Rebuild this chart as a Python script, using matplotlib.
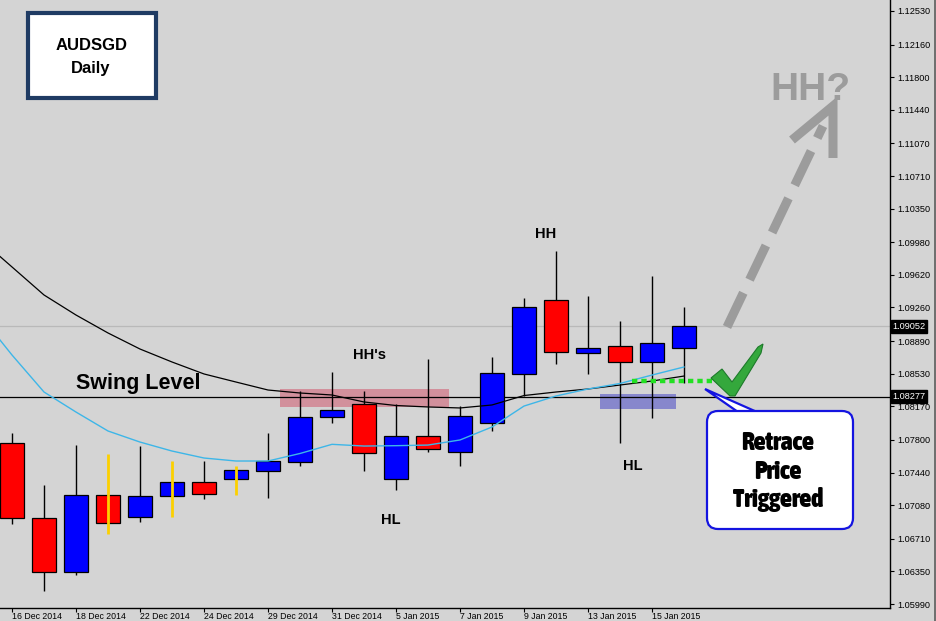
import matplotlib
matplotlib.use('Agg')
import matplotlib.pyplot as plt
from matplotlib import font_manager
from matplotlib.font_manager import FontProperties
from matplotlib.patches import Rectangle, FancyBboxPatch, Polygon
import numpy as np

# ---------------- data ----------------
dates = ['16 Dec 2014', '17 Dec 2014', '18 Dec 2014', '19 Dec 2014', '22 Dec 2014',
         '23 Dec 2014', '24 Dec 2014', '26 Dec 2014', '29 Dec 2014', '30 Dec 2014',
         '31 Dec 2014', '2 Jan 2015', '5 Jan 2015', '6 Jan 2015', '7 Jan 2015',
         '8 Jan 2015', '9 Jan 2015', '12 Jan 2015', '13 Jan 2015', '14 Jan 2015',
         '15 Jan 2015', '16 Jan 2015']
opens = [1.07765, 1.06938, 1.06343, 1.07192, 1.06949, 1.07181, 1.07335, 1.07368,
         1.07457, 1.07556, 1.08052, 1.08196, 1.07368, 1.07843, 1.07666, 1.07986,
         1.08527, 1.09343, 1.08761, 1.08835, 1.08659, 1.08813]
highs = [1.07876, 1.07302, 1.07743, 1.07644, 1.07732, 1.07567, 1.07567, 1.07512,
         1.07876, 1.08339, 1.08549, 1.08339, 1.08196, 1.08692, 1.08174, 1.08714,
         1.09365, 1.09883, 1.09387, 1.09111, 1.09607, 1.09265]
lows = [1.06872, 1.06133, 1.06310, 1.06762, 1.06894, 1.06949, 1.07148, 1.07192,
        1.07159, 1.07512, 1.07986, 1.07457, 1.07247, 1.07666, 1.07512, 1.07898,
        1.08284, 1.08637, 1.08527, 1.07765, 1.08041, 1.08427]
closes = [1.06938, 1.06343, 1.07192, 1.06883, 1.07181, 1.07335, 1.07203, 1.07468,
          1.07567, 1.08052, 1.08129, 1.07655, 1.07843, 1.07699, 1.08063, 1.08538,
          1.09265, 1.08769, 1.08813, 1.08659, 1.08868, 1.09052]
yellow_wick = [False, False, False, True, False, True, False, True, False, False, False,
               False, False, False, False, False, False, False, False, False, False, False]

# moving averages (first value is the bar before 16 Dec, off the left edge)
ma_slow = [1.10015, 1.09707, 1.09398, 1.09177, 1.08979, 1.08802, 1.08659, 1.08527,
           1.08438, 1.08350, 1.08317, 1.08295, 1.08218, 1.08179, 1.08163, 1.08152,
           1.08185, 1.08289, 1.08328, 1.08361, 1.08405, 1.08449, 1.08504]
ma_fast = [1.09177, 1.08736, 1.08328, 1.08107, 1.07898, 1.07776, 1.07677, 1.07600,
           1.07567, 1.07567, 1.07650, 1.07751, 1.07732, 1.07736, 1.07743, 1.07799,
           1.07942, 1.08173, 1.08284, 1.08361, 1.08422, 1.08515, 1.08604]

ytick_values = [1.12530, 1.12160, 1.11800, 1.11440, 1.11070, 1.10710, 1.10350, 1.09980,
                1.09620, 1.09260, 1.08890, 1.08530, 1.08170, 1.07800, 1.07440, 1.07080,
                1.06710, 1.06350, 1.05990]
ytick_labels = ['1.12530', '1.12160', '1.11800', '1.11440', '1.11070', '1.10710', '1.10350',
                '1.09980', '1.09620', '1.09260', '1.08890', '1.08530', '1.08170', '1.07800',
                '1.07440', '1.07080', '1.06710', '1.06350', '1.05990']

current_price = 1.09052
swing_level = 1.08277
resistance_zone = (8.375, 13.66, 1.08163, 1.08361)   # x0, x1, y0, y1
support_zone = (18.375, 20.75, 1.08140, 1.08306)
retrace_level = 1.08453
retrace_span = (19.37, 22.1)

# ---------------- style ----------------
BG = '#d4d4d4'
names = {f.name for f in font_manager.fontManager.ttflist}
BASE = 'Liberation Sans' if 'Liberation Sans' in names else 'DejaVu Sans'

# look for the narrowest heavy face for the callout text
rank = {'ultra-condensed': 0, 'extra-condensed': 1, 'condensed': 2, 'semi-condensed': 3}
best = None
for f in font_manager.fontManager.ttflist:
    st = str(f.stretch).lower()
    nm = f.name.lower()
    w = f.weight if isinstance(f.weight, int) else (700 if 'bold' in str(f.weight) else 400)
    if f.style != 'normal' or w < 700:
        continue
    r = rank.get(st)
    if r is None and ('narrow' in nm or 'condensed' in nm):
        r = 2
    if r is None:
        continue
    key = (r, -w)
    if best is None or key < best[0]:
        best = (key, f.fname)
if best is not None:
    CFONT = dict(fontproperties=FontProperties(fname=best[1], size=18.5))
else:
    CFONT = dict(family='DejaVu Sans', weight='bold', size=15)

fig = plt.figure(figsize=(9.36, 6.21), dpi=100)
fig.patch.set_facecolor(BG)
ax = fig.add_axes([0, 13 / 621, 890 / 936, 608 / 621])
ax.set_facecolor(BG)

x = np.arange(len(opens))
o = np.array(opens); c = np.array(closes); h = np.array(highs); l = np.array(lows)
up = c >= o
colors = np.where(up, '#0000ff', '#ff0000')

# zones
ax.add_patch(Rectangle((resistance_zone[0], resistance_zone[2]),
                       resistance_zone[1] - resistance_zone[0],
                       resistance_zone[3] - resistance_zone[2],
                       facecolor='#d2909c', edgecolor='none', zorder=1))
ax.add_patch(Rectangle((support_zone[0], support_zone[2]),
                       support_zone[1] - support_zone[0],
                       support_zone[3] - support_zone[2],
                       facecolor='#8787cc', edgecolor='none', zorder=1))

# horizontal lines
ax.axhline(current_price, color='#b9b9b9', lw=0.9, zorder=1.5)
ax.axhline(swing_level, color='black', lw=0.9, zorder=1.5)

# candles
yw = np.array(yellow_wick)
ax.vlines(x[~yw], l[~yw], h[~yw], color='black', lw=1.0, zorder=2)
ax.bar(x, np.maximum(np.abs(c - o), 0.00004), bottom=np.minimum(o, c), width=0.75,
       color=colors, edgecolor='black', linewidth=0.9, zorder=3)
ax.vlines(x[yw], l[yw], h[yw], color='#fcd000', lw=2.0, zorder=3.5)

# moving averages
ma_x = np.arange(-1, len(opens))
ax.plot(ma_x, ma_slow, color='black', lw=0.9, zorder=4)
ax.plot(ma_x, ma_fast, color='#3db6e8', lw=1.0, zorder=4)

# retrace dotted level
ax.plot(retrace_span, [retrace_level, retrace_level], color='#22e022', lw=3.2,
        linestyle=(0, (1.2, 0.9)), solid_capstyle='butt', dash_capstyle='butt', zorder=5)

ax.set_xlim(-0.375, 27.4375)
ax.set_ylim(1.05946, 1.12651)

for s in ['top', 'left']:
    ax.spines[s].set_visible(False)
for s in ['right', 'bottom']:
    ax.spines[s].set_color('black')
    ax.spines[s].set_linewidth(1.0)

ax.yaxis.tick_right()
ax.set_yticks(ytick_values)
ax.set_yticklabels(ytick_labels, fontsize=6.6, family=BASE)
ax.tick_params(axis='y', direction='out', length=3, width=0.8, pad=2, colors='black')

xt = list(range(0, len(dates), 2))
ax.set_xticks(xt)
ax.set_xticklabels([dates[i] for i in xt], fontsize=6.3, family=BASE)
for lbl in ax.get_xticklabels():
    lbl.set_horizontalalignment('left')
ax.tick_params(axis='x', direction='out', length=3, width=0.8, pad=0, colors='black')

for val in [current_price, swing_level]:
    ax.annotate(f'{val:.5f}', xy=(1, val), xycoords=('axes fraction', 'data'),
                xytext=(1.6, 0), textcoords='offset points', ha='left', va='center',
                color='white', fontsize=6.6, family=BASE, annotation_clip=False,
                bbox=dict(boxstyle='square,pad=0.18', fc='black', ec='black'))

# ---------------- annotation overlay (pixel coordinates) ----------------
ov = fig.add_axes([0, 0, 1, 1])
ov.set_xlim(0, 936)
ov.set_ylim(621, 0)
ov.axis('off')
ov.patch.set_alpha(0)

ov.add_patch(Rectangle((934, 0), 2, 621, facecolor='#707070', edgecolor='none'))

# title box
ov.add_patch(Rectangle((28, 13), 128, 85, facecolor='white', edgecolor='#1f3b63', lw=3))
ov.text(92, 50, 'AUDSGD', ha='center', va='baseline', fontsize=12, weight='bold', family=BASE)
ov.text(91, 72.5, 'Daily', ha='center', va='baseline', fontsize=12, weight='bold', family=BASE)

ov.text(76, 389, 'Swing Level', ha='left', va='baseline', fontsize=15.5, weight='bold', family=BASE)
ov.text(353, 359, "HH's", ha='left', va='baseline', fontsize=10.5, weight='bold', family=BASE)
ov.text(381, 524.5, 'HL', ha='left', va='baseline', fontsize=10.5, weight='bold', family=BASE)
ov.text(535, 238, 'HH', ha='left', va='baseline', fontsize=10.5, weight='bold', family=BASE)
ov.text(623, 470, 'HL', ha='left', va='baseline', fontsize=10.5, weight='bold', family=BASE)
ov.text(770, 100, 'HH?', ha='left', va='baseline', fontsize=28, weight='bold',
        family=BASE, color='#9c9c9c')

# dashed projection arrow
ov.plot([727, 823], [327, 126], color='#9c9c9c', lw=6.5, linestyle=(0, (4.2, 1.6)),
        dash_capstyle='butt')
ov.plot([792, 833, 833], [140, 106, 158], color='#9c9c9c', lw=6.5,
        solid_joinstyle='miter', solid_capstyle='butt')

# check mark
ov.add_patch(Polygon([(711, 378), (722, 369), (732, 382), (758, 347), (763, 344),
                      (761, 353), (735, 396), (730, 396)], closed=True,
                     facecolor='#34a83c', edgecolor='#1d7a2a', lw=0.8))

# callout
ov.add_patch(Polygon([(738, 412), (705, 389), (757, 412)], closed=True,
                     facecolor='white', edgecolor='#1414e0', lw=1.6))
ov.add_patch(FancyBboxPatch((707, 411), 146, 118,
                            boxstyle='round,pad=0,rounding_size=11',
                            facecolor='white', edgecolor='#1414e0', lw=1.6))
for txt, yb in [('Retrace', 450), ('Price', 479), ('Triggered', 506.5)]:
    ov.text(778, yb, txt, ha='center', va='baseline', color='black', **CFONT)

fig.savefig('out.png', dpi=100, facecolor=BG)
